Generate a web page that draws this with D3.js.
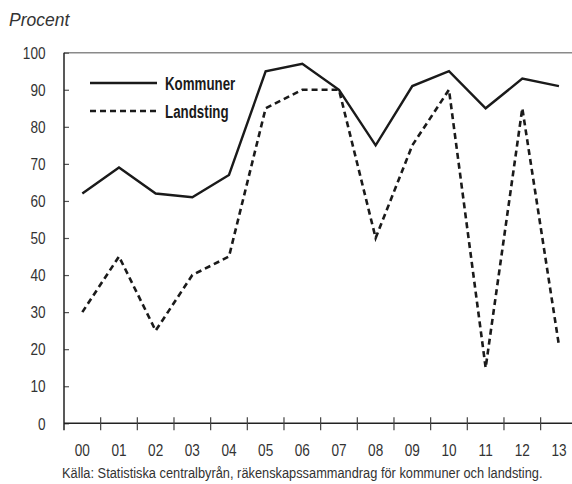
<!DOCTYPE html>
<html>
<head>
<meta charset="utf-8">
<script src="https://cdn.jsdelivr.net/npm/d3@7"></script>
<style>
  html, body { margin: 0; padding: 0; background: #fff; }
  svg { display: block; }
  text { font-family: "Liberation Sans", Arial, sans-serif; }
</style>
</head>
<body>
<svg id="chart" width="572" height="484"></svg>
<script>
const years = ["00","01","02","03","04","05","06","07","08","09","10","11","12","13"];
const kommuner = [62, 69, 62, 61, 67, 95, 97, 90, 75, 91, 95, 85, 93, 91];
const landsting = [30, 45, 25, 40, 45, 85, 90, 90, 50, 75, 90, 15, 85, 21];
const yTicks = [0, 10, 20, 30, 40, 50, 60, 70, 80, 90, 100];
const seriesNames = ["Kommuner", "Landsting"];
const yLabel = "Procent";
const sourceText = "Källa: Statistiska centralbyrån, räkenskapssammandrag för kommuner och landsting.";

const svg = d3.select("#chart");
const mLeft = 64, mRight = 577.3, mTop = 52.7, mBottom = 423.3;
const SX = 0.8;

const x = d3.scaleBand().domain(years).range([mLeft, mRight]).padding(0);
const y = d3.scaleLinear().domain([0, 100]).range([mBottom, mTop]);

// top border
svg.append("line").attr("x1", mLeft).attr("x2", 572).attr("y1", y(100)).attr("y2", y(100))
  .attr("stroke", "#8a8a8a").attr("stroke-width", 1.5);

// y axis ticks
const yAxis = svg.append("g").attr("transform", `translate(${mLeft},0)`)
  .call(d3.axisRight(y).tickValues(yTicks).tickSize(5).tickFormat(""));
yAxis.select(".domain").remove();
yAxis.selectAll(".tick line").attr("stroke", "#555").attr("stroke-width", 1.2);
svg.append("line").attr("x1", mLeft).attr("x2", mLeft).attr("y1", mTop).attr("y2", mBottom + 7)
  .attr("stroke", "#222").attr("stroke-width", 1.5);

// y labels (condensed)
svg.append("g").selectAll("text").data(yTicks).join("text")
  .attr("transform", d => `translate(45.5,${y(d) + 6.2}) scale(${SX},1)`)
  .attr("text-anchor", "end").attr("font-size", 17).attr("fill", "#333")
  .text(d => d);

// x axis
const xAxis = svg.append("g").attr("transform", `translate(0,${mBottom})`)
  .call(d3.axisBottom(x).tickSize(0).tickFormat(""));
xAxis.select(".domain").remove();
svg.append("line").attr("x1", mLeft).attr("x2", 572).attr("y1", mBottom).attr("y2", mBottom)
  .attr("stroke", "#222").attr("stroke-width", 1.5);
svg.append("g").selectAll("line").data(years.slice(1)).join("line")
  .attr("x1", d => x(d)).attr("x2", d => x(d))
  .attr("y1", mBottom - 6).attr("y2", mBottom + 7)
  .attr("stroke", "#444").attr("stroke-width", 1.2);

// x labels
svg.append("g").selectAll("text").data(years).join("text")
  .attr("transform", d => `translate(${x(d) + x.bandwidth() / 2},455.5) scale(${SX},1)`)
  .attr("text-anchor", "middle").attr("font-size", 17).attr("fill", "#333")
  .text(d => d);

// lines
const line = d3.line().x((d, i) => x(years[i]) + x.bandwidth() / 2).y(d => y(d));
svg.append("path").datum(kommuner).attr("d", line)
  .attr("fill", "none").attr("stroke", "#1a1a1a").attr("stroke-width", 2.4);
svg.append("path").datum(landsting).attr("d", line)
  .attr("fill", "none").attr("stroke", "#1a1a1a").attr("stroke-width", 2.6)
  .attr("stroke-dasharray", "6,4");

// legend
const lg = svg.append("g");
lg.append("line").attr("x1", 90).attr("x2", 157).attr("y1", 83).attr("y2", 83)
  .attr("stroke", "#1a1a1a").attr("stroke-width", 2.4);
lg.append("line").attr("x1", 90).attr("x2", 157).attr("y1", 111).attr("y2", 111)
  .attr("stroke", "#1a1a1a").attr("stroke-width", 2.6).attr("stroke-dasharray", "6,4");
lg.selectAll("text").data(seriesNames).join("text")
  .attr("transform", (d, i) => `translate(165,${89.5 + i * 28}) scale(0.72,1)`)
  .attr("font-size", 18.5).attr("font-weight", "bold").attr("fill", "#1a1a1a")
  .text(d => d);

// y title
svg.append("text").attr("x", 9).attr("y", 25.5)
  .attr("font-style", "italic")
  .attr("font-size", 17.5).attr("fill", "#333").text(yLabel);

// source (condensed to match width)
const src = svg.append("text")
  .attr("font-size", 14.5).attr("fill", "#333")
  .text(sourceText);
const natW = src.node().getComputedTextLength();
src.attr("transform", `translate(62,477.5) scale(${481 / natW},1)`);
</script>
</body>
</html>
